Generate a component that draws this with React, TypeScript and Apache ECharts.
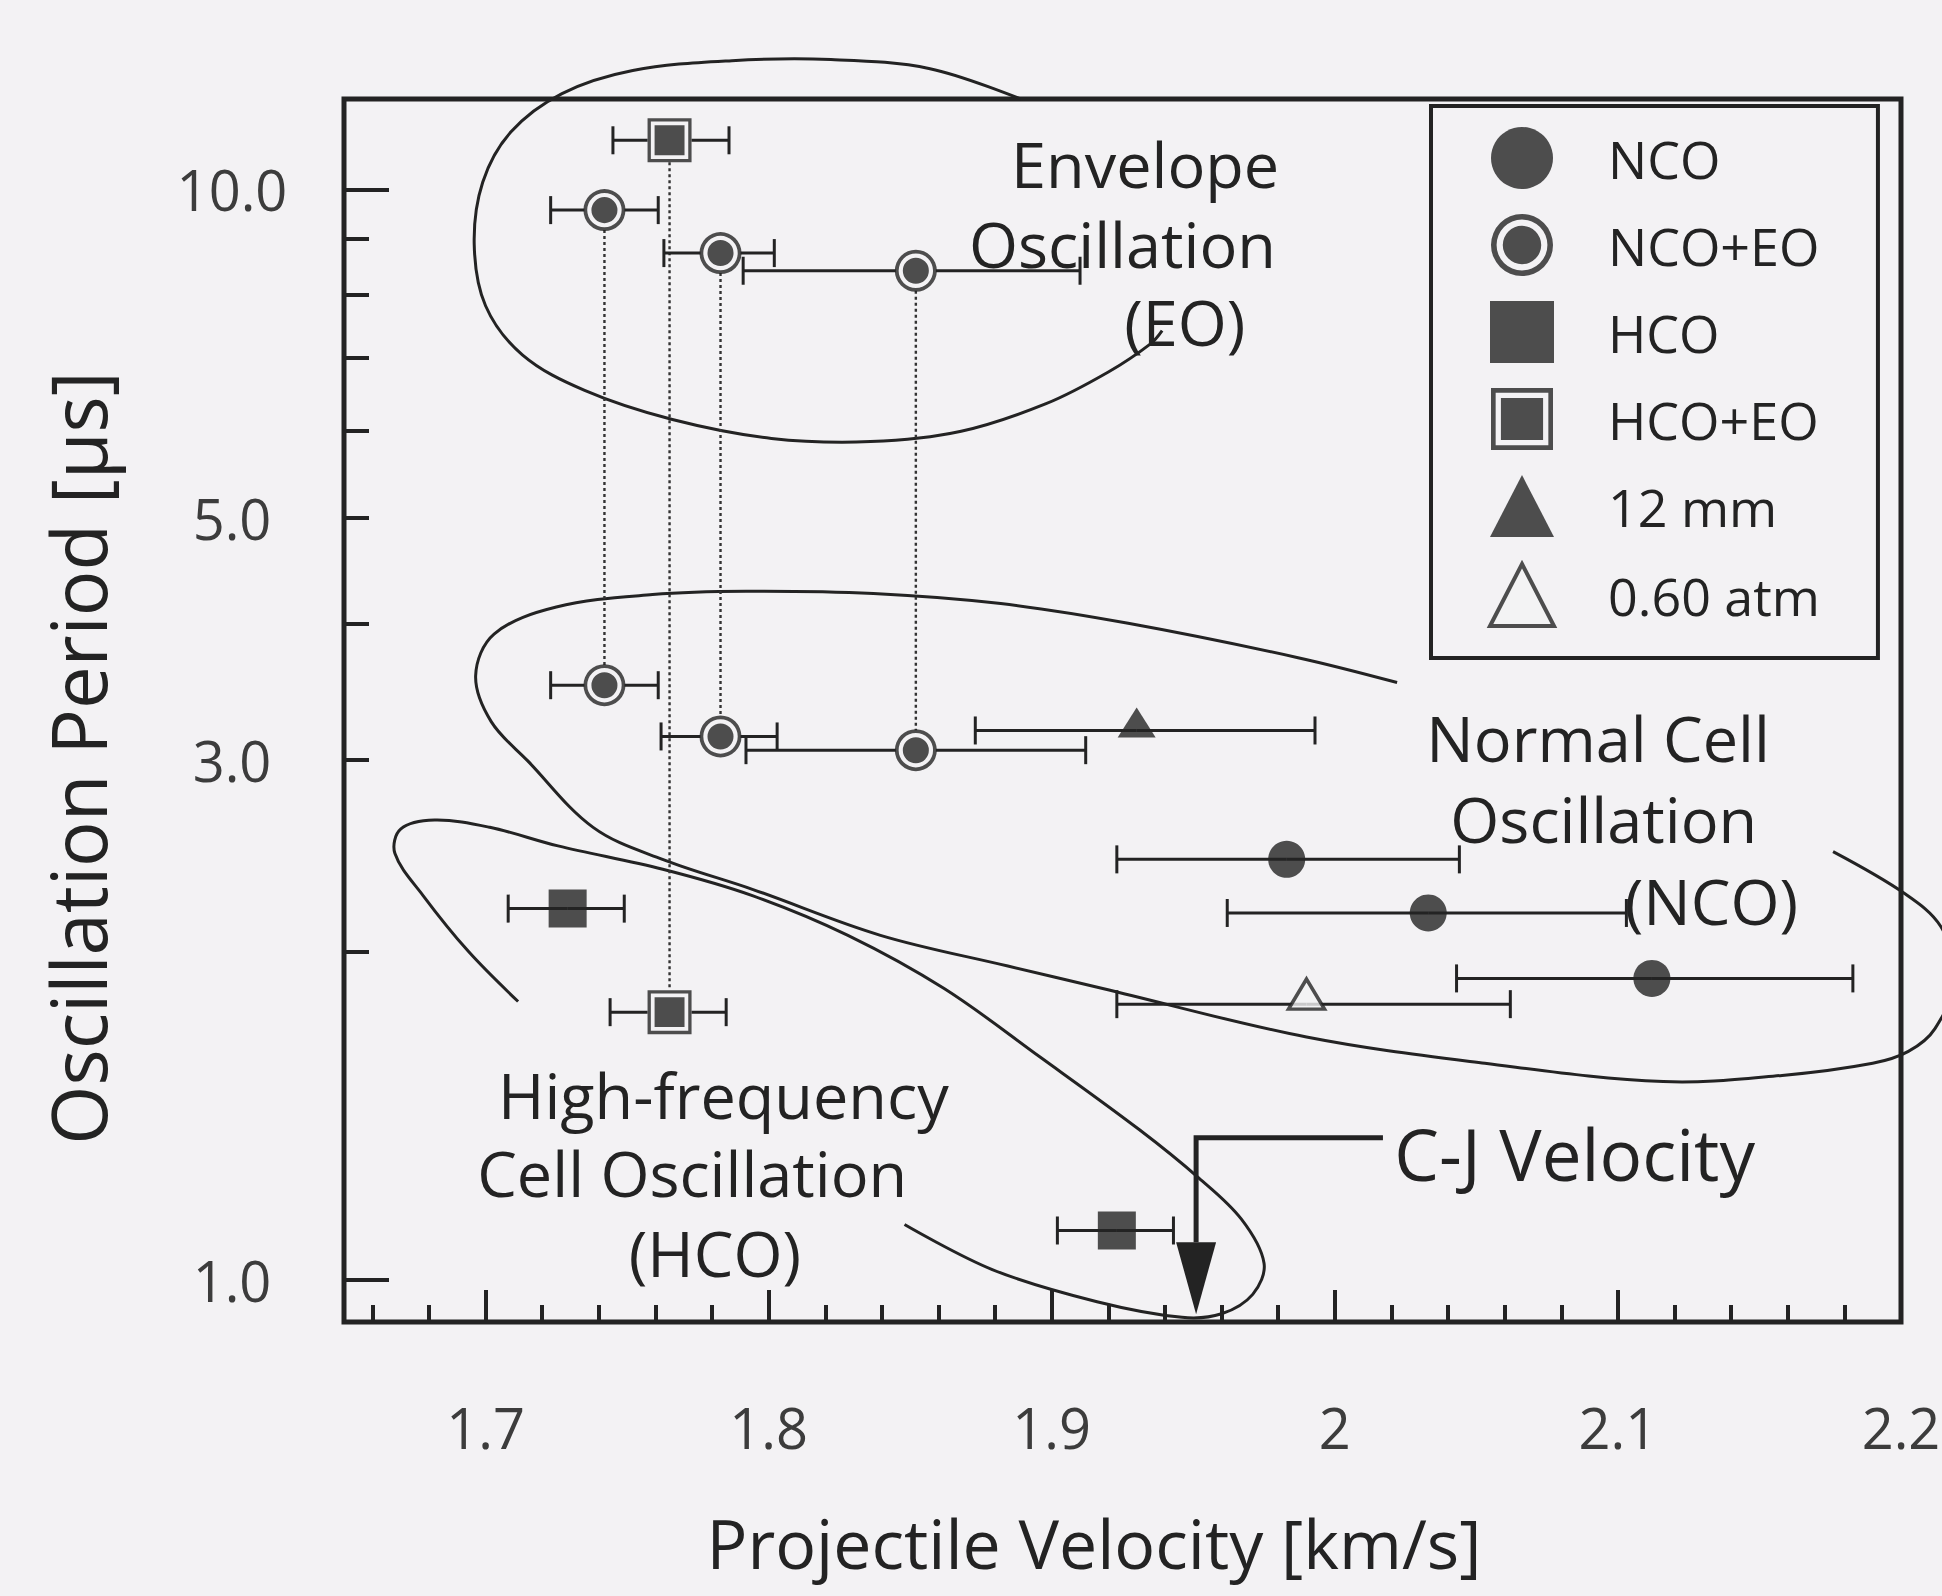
import React, { useEffect, useRef } from "react";
import * as echarts from "echarts";

const FONT = '"Open Sans", "DejaVu Sans", sans-serif';
const INK = "#232323";
const LABEL_INK = "#3c3c3c";
const BG = "#f3f2f4";

// ---- axes ----
const xMin = 1.65;
const xMax = 2.2;
const yMin = 0.915;
const yMax = 12.1;
const xLabelValues = [1.7, 1.8, 1.9, 2, 2.1, 2.2];
const xMajorTicks = [1.7, 1.8, 1.9, 2.0, 2.1];
const xMinorTicks = [
  1.66, 1.68, 1.72, 1.74, 1.76, 1.78, 1.82, 1.84, 1.86, 1.88, 1.92, 1.94,
  1.96, 1.98, 2.02, 2.04, 2.06, 2.08, 2.12, 2.14, 2.16, 2.18,
];
const yLabelValues = [1, 3, 5, 10];
const yMajorTicks = [1, 10];
const yMinorTicks = [2, 3, 4, 5, 6, 7, 8, 9];

// ---- data: velocity, period, velocity error range ----
const ncoX = [1.983, 2.033, 2.112];
const ncoY = [2.43, 2.17, 1.89];
const ncoLo = [1.923, 1.962, 2.043];
const ncoHi = [2.044, 2.103, 2.183];

const ncoEoX = [1.742, 1.783, 1.852, 1.742, 1.783, 1.852];
const ncoEoY = [9.57, 8.74, 8.42, 3.51, 3.15, 3.06];
const ncoEoLo = [1.723, 1.763, 1.791, 1.723, 1.762, 1.792];
const ncoEoHi = [1.761, 1.802, 1.91, 1.761, 1.803, 1.912];

const hcoX = [1.729, 1.923];
const hcoY = [2.19, 1.11];
const hcoLo = [1.708, 1.902];
const hcoHi = [1.749, 1.943];

const hcoEoX = [1.765, 1.765];
const hcoEoY = [11.09, 1.76];
const hcoEoLo = [1.745, 1.744];
const hcoEoHi = [1.786, 1.785];

const mm12X = [1.93];
const mm12Y = [3.19];
const mm12Lo = [1.873];
const mm12Hi = [1.993];

const atmX = [1.99];
const atmY = [1.79];
const atmLo = [1.923];
const atmHi = [2.062];

// ---- region outlines (velocity, period) ----
const eoOutline = [
  [1.889, 12.1], [1.857, 12.9], [1.822, 13.15], [1.787, 13.12], [1.752, 12.85],
  [1.727, 12.24], [1.709, 11.29], [1.699, 10.15], [1.696, 8.9], [1.7, 7.82],
  [1.713, 7.05], [1.735, 6.54], [1.766, 6.15], [1.801, 5.91], [1.836, 5.87],
  [1.868, 6.0], [1.898, 6.36], [1.92, 6.8], [1.935, 7.22], [1.939, 7.42],
];
const ncoOutline = [
  [2.022, 3.53], [1.987, 3.72], [1.927, 4.0], [1.882, 4.17], [1.837, 4.26],
  [1.792, 4.28], [1.759, 4.25], [1.725, 4.14], [1.703, 3.91], [1.6965, 3.58],
  [1.702, 3.25], [1.715, 2.99], [1.738, 2.6], [1.7625, 2.43], [1.7945, 2.28],
  [1.8395, 2.07], [1.8845, 1.94], [1.918, 1.85], [1.99, 1.67], [2.053, 1.58],
  [2.116, 1.52], [2.158, 1.54], [2.19, 1.58], [2.2026, 1.62], [2.212, 1.7],
  [2.2195, 1.9], [2.214, 2.11], [2.2014, 2.26], [2.176, 2.47],
];
const hcoOutline = [
  [1.7115, 1.8], [1.694, 2.0], [1.678, 2.25], [1.668, 2.46], [1.67, 2.59],
  [1.682, 2.64], [1.7015, 2.6], [1.7256, 2.5], [1.7626, 2.38], [1.7945, 2.25],
  [1.828, 2.07], [1.862, 1.85], [1.896, 1.6], [1.931, 1.373], [1.952, 1.24],
  [1.967, 1.137], [1.975, 1.036], [1.971, 0.97], [1.96, 0.931], [1.946, 0.924],
  [1.916, 0.955], [1.879, 1.022], [1.848, 1.124],
];
const outlines = [eoOutline, ncoOutline, hcoOutline];

// ---- C-J velocity marker ----
const cjVelocity = 1.951;
const cjBracketY = 1.35;
const cjLineEndX = 2.017;
const cjHeadY = 1.083;
const cjTipY = 0.93;

// ---- annotations: text, velocity, period, align, size ----
const annotText = [
  "Envelope", "Oscillation", "(EO)",
  "Normal Cell", "Oscillation", "(NCO)",
  "High-frequency", "Cell Oscillation", "(HCO)",
  "C-J Velocity",
];
const annotX = [1.933, 1.925, 1.947, 2.093, 2.095, 2.133, 1.784, 1.773, 1.781, 2.021];
const annotY = [10.56, 8.92, 7.56, 3.14, 2.65, 2.23, 1.48, 1.254, 1.06, 1.305];
const annotAlign = ["center", "center", "center", "center", "center", "center", "center", "center", "center", "left"];
const annotSize = [63, 63, 63, 63, 63, 63, 63, 63, 63, 71];

const RING_PATH =
  "path://M0 10A10 10 0 1 1 20 10A10 10 0 1 1 0 10Z M1.8 10A8.2 8.2 0 1 0 18.2 10A8.2 8.2 0 1 0 1.8 10Z M3.8 10A6.2 6.2 0 1 1 16.2 10A6.2 6.2 0 1 1 3.8 10Z";
const BOX_PATH =
  "path://M0 0H20V20H0Z M1.5 1.5V18.5H18.5V1.5Z M3.2 3.2H16.8V16.8H3.2Z";

const pts = (xs: number[], ys: number[]) => xs.map((x, i) => [x, ys[i]]);
const bars = (xs: number[], ys: number[], lo: number[], hi: number[], r: number) =>
  xs.map((x, i) => [x, ys[i], lo[i], hi[i], r]);

export default function App() {
  const ref = useRef<HTMLDivElement>(null);

  useEffect(() => {
    if (!ref.current) return;
    const chart = echarts.init(ref.current, null, { renderer: "svg" });

    const errorData = [
      ...bars(ncoX, ncoY, ncoLo, ncoHi, 0),
      ...bars(ncoEoX, ncoEoY, ncoEoLo, ncoEoHi, 20),
      ...bars(hcoX, hcoY, hcoLo, hcoHi, 0),
      ...bars(hcoEoX, hcoEoY, hcoEoLo, hcoEoHi, 22),
      ...bars(mm12X, mm12Y, mm12Lo, mm12Hi, 0),
      ...bars(atmX, atmY, atmLo, atmHi, 0),
    ];

    // dotted links between the EO points and their lower counterparts
    const linkData = [
      [ncoEoX[0], ncoEoY[0], ncoEoY[3], 20, 20],
      [hcoEoX[0], hcoEoY[0], hcoEoY[1], 22, 22],
      [ncoEoX[1], ncoEoY[1], ncoEoY[4], 20, 20],
      [ncoEoX[2], ncoEoY[2], ncoEoY[5], 20, 20],
    ];

    const tickLine = { color: INK, width: 4 };

    const option: any = {
      animation: false,
      backgroundColor: BG,
      grid: {
        left: 344,
        right: 41,
        top: 99,
        bottom: 274,
        show: true,
        borderColor: INK,
        borderWidth: 5,
        backgroundColor: "transparent",
        outerBoundsMode: "none",
        containLabel: false,
      },
      xAxis: [
        {
          type: "value",
          min: xMin,
          max: xMax,
          position: "bottom",
          axisLine: { show: false },
          splitLine: { show: false },
          axisTick: { show: true, inside: true, length: 17, customValues: xMinorTicks, lineStyle: tickLine },
          axisLabel: {
            show: true,
            customValues: xLabelValues,
            margin: 77,
            fontSize: 56,
            fontFamily: FONT,
            color: LABEL_INK,
            formatter: (v: number) => String(v),
          },
        },
        {
          type: "value",
          min: xMin,
          max: xMax,
          position: "bottom",
          axisLine: { show: false },
          splitLine: { show: false },
          axisTick: { show: true, inside: true, length: 32, customValues: xMajorTicks, lineStyle: tickLine },
          axisLabel: { show: false },
        },
      ],
      yAxis: [
        {
          type: "log",
          logBase: 10,
          min: yMin,
          max: yMax,
          position: "left",
          axisLine: { show: false },
          splitLine: { show: false },
          minorTick: { show: false },
          axisTick: { show: true, inside: true, length: 25, customValues: yMinorTicks, lineStyle: tickLine },
          axisLabel: {
            show: true,
            customValues: yLabelValues,
            margin: 112,
            align: "center",
            fontSize: 56,
            fontFamily: FONT,
            color: LABEL_INK,
            formatter: (v: number) => Number(v).toFixed(1),
          },
        },
        {
          type: "log",
          logBase: 10,
          min: yMin,
          max: yMax,
          position: "left",
          axisLine: { show: false },
          splitLine: { show: false },
          minorTick: { show: false },
          axisTick: { show: true, inside: true, length: 45, customValues: yMajorTicks, lineStyle: tickLine },
          axisLabel: { show: false },
        },
      ],
      legend: {
        data: [
          { name: "NCO" },
          { name: "NCO+EO" },
          { name: "HCO" },
          { name: "HCO+EO" },
          { name: "12 mm" },
          { name: "0.60 atm", itemStyle: { color: BG, borderColor: INK, borderWidth: 4 } },
        ],
        orient: "vertical",
        left: 1431,
        top: 106,
        padding: [21, 58, 30, 57],
        itemWidth: 64,
        itemHeight: 62,
        itemGap: 25,
        borderColor: INK,
        borderWidth: 4,
        backgroundColor: "transparent",
        selectedMode: false,
        textStyle: { fontSize: 52, fontFamily: FONT, color: INK, padding: [0, 0, 0, 49] },
      },
      graphic: [
        {
          type: "text",
          x: 1094,
          y: 1542,
          style: {
            text: "Projectile Velocity [km/s]",
            fontSize: 68,
            fontFamily: FONT,
            fill: INK,
            align: "center",
            verticalAlign: "middle",
          },
        },
        {
          type: "text",
          x: 77,
          y: 758,
          rotation: Math.PI / 2,
          style: {
            text: "Oscillation Period [μs]",
            fontSize: 76,
            fontFamily: FONT,
            fill: INK,
            align: "center",
            verticalAlign: "middle",
          },
        },
      ],
      series: [
        {
          type: "custom",
          data: outlines.map((o) => o[0]),
          encode: { x: 0, y: 1 },
          silent: true,
          clip: false,
          z: 1,
          renderItem: (params: any, api: any) => {
            const line = outlines[params.dataIndex].map((p) => api.coord(p));
            return {
              type: "polyline",
              shape: { points: line, smooth: 0.35 },
              style: { stroke: INK, lineWidth: 3, fill: null },
            };
          },
        },
        {
          type: "custom",
          data: linkData,
          encode: { x: 0, y: 1 },
          silent: true,
          z: 2,
          renderItem: (params: any, api: any) => {
            const a = api.coord([api.value(0), api.value(1)]);
            const b = api.coord([api.value(0), api.value(2)]);
            return {
              type: "line",
              shape: { x1: a[0], y1: a[1] + api.value(3), x2: b[0], y2: b[1] - api.value(4) },
              style: { stroke: "#333", lineWidth: 2.4, lineDash: [3, 3] },
            };
          },
        },
        {
          type: "custom",
          data: errorData,
          encode: { x: 0, y: 1 },
          silent: true,
          z: 3,
          renderItem: (params: any, api: any) => {
            const y = api.value(1);
            const c = api.coord([api.value(0), y]);
            const a = api.coord([api.value(2), y]);
            const b = api.coord([api.value(3), y]);
            const r = api.value(4);
            const st = { stroke: INK, lineWidth: 3 };
            const cap = 14;
            return {
              type: "group",
              children: [
                { type: "line", shape: { x1: a[0], y1: a[1], x2: c[0] - r, y2: c[1] }, style: st },
                { type: "line", shape: { x1: c[0] + r, y1: c[1], x2: b[0], y2: b[1] }, style: st },
                { type: "line", shape: { x1: a[0], y1: a[1] - cap, x2: a[0], y2: a[1] + cap }, style: st },
                { type: "line", shape: { x1: b[0], y1: b[1] - cap, x2: b[0], y2: b[1] + cap }, style: st },
              ],
            };
          },
        },
        {
          name: "NCO",
          type: "scatter",
          data: pts(ncoX, ncoY),
          symbol: "circle",
          symbolSize: 37,
          itemStyle: { color: INK },
          z: 4,
        },
        {
          name: "NCO+EO",
          type: "scatter",
          data: pts(ncoEoX, ncoEoY),
          symbol: RING_PATH,
          symbolSize: 42,
          itemStyle: { color: INK },
          z: 4,
        },
        {
          name: "HCO",
          type: "scatter",
          data: pts(hcoX, hcoY),
          symbol: "rect",
          symbolSize: [38, 38],
          itemStyle: { color: INK },
          z: 4,
        },
        {
          name: "HCO+EO",
          type: "scatter",
          data: pts(hcoEoX, hcoEoY),
          symbol: BOX_PATH,
          symbolSize: 44,
          itemStyle: { color: INK },
          z: 4,
        },
        {
          name: "12 mm",
          type: "scatter",
          data: pts(mm12X, mm12Y),
          symbol: "triangle",
          symbolSize: [38, 30],
          symbolOffset: [0, -8],
          itemStyle: { color: INK },
          z: 4,
        },
        {
          name: "0.60 atm",
          type: "scatter",
          data: pts(atmX, atmY),
          symbol: "triangle",
          symbolSize: [36, 30],
          symbolOffset: [0, -10],
          itemStyle: { color: BG, borderColor: INK, borderWidth: 3.5 },
          z: 4,
        },
        {
          type: "custom",
          data: [[cjVelocity, cjBracketY]],
          encode: { x: 0, y: 1 },
          silent: true,
          z: 3,
          renderItem: (params: any, api: any) => {
            const corner = api.coord([cjVelocity, cjBracketY]);
            const end = api.coord([cjLineEndX, cjBracketY]);
            const head = api.coord([cjVelocity, cjHeadY]);
            const tip = api.coord([cjVelocity, cjTipY]);
            return {
              type: "group",
              children: [
                {
                  type: "polyline",
                  shape: { points: [[end[0], end[1]], [corner[0], corner[1]], [head[0], head[1]]] },
                  style: { stroke: INK, lineWidth: 5, fill: null },
                },
                {
                  type: "polygon",
                  shape: { points: [[head[0] - 20, head[1]], [head[0] + 20, head[1]], [tip[0], tip[1]]] },
                  style: { fill: INK },
                },
              ],
            };
          },
        },
        {
          type: "custom",
          data: pts(annotX, annotY),
          encode: { x: 0, y: 1 },
          silent: true,
          z: 5,
          renderItem: (params: any, api: any) => {
            const i = params.dataIndex;
            const p = api.coord([api.value(0), api.value(1)]);
            return {
              type: "text",
              x: p[0],
              y: p[1],
              style: {
                text: annotText[i],
                fontSize: annotSize[i],
                lineHeight: 72,
                fontFamily: FONT,
                fill: INK,
                align: annotAlign[i],
                verticalAlign: "middle",
              },
            };
          },
        },
      ],
    };

    chart.setOption(option);
    return () => chart.dispose();
  }, []);

  return (
    <div
      ref={ref}
      style={{ position: "fixed", left: 0, top: 0, width: 1942, height: 1596 }}
    />
  );
}
